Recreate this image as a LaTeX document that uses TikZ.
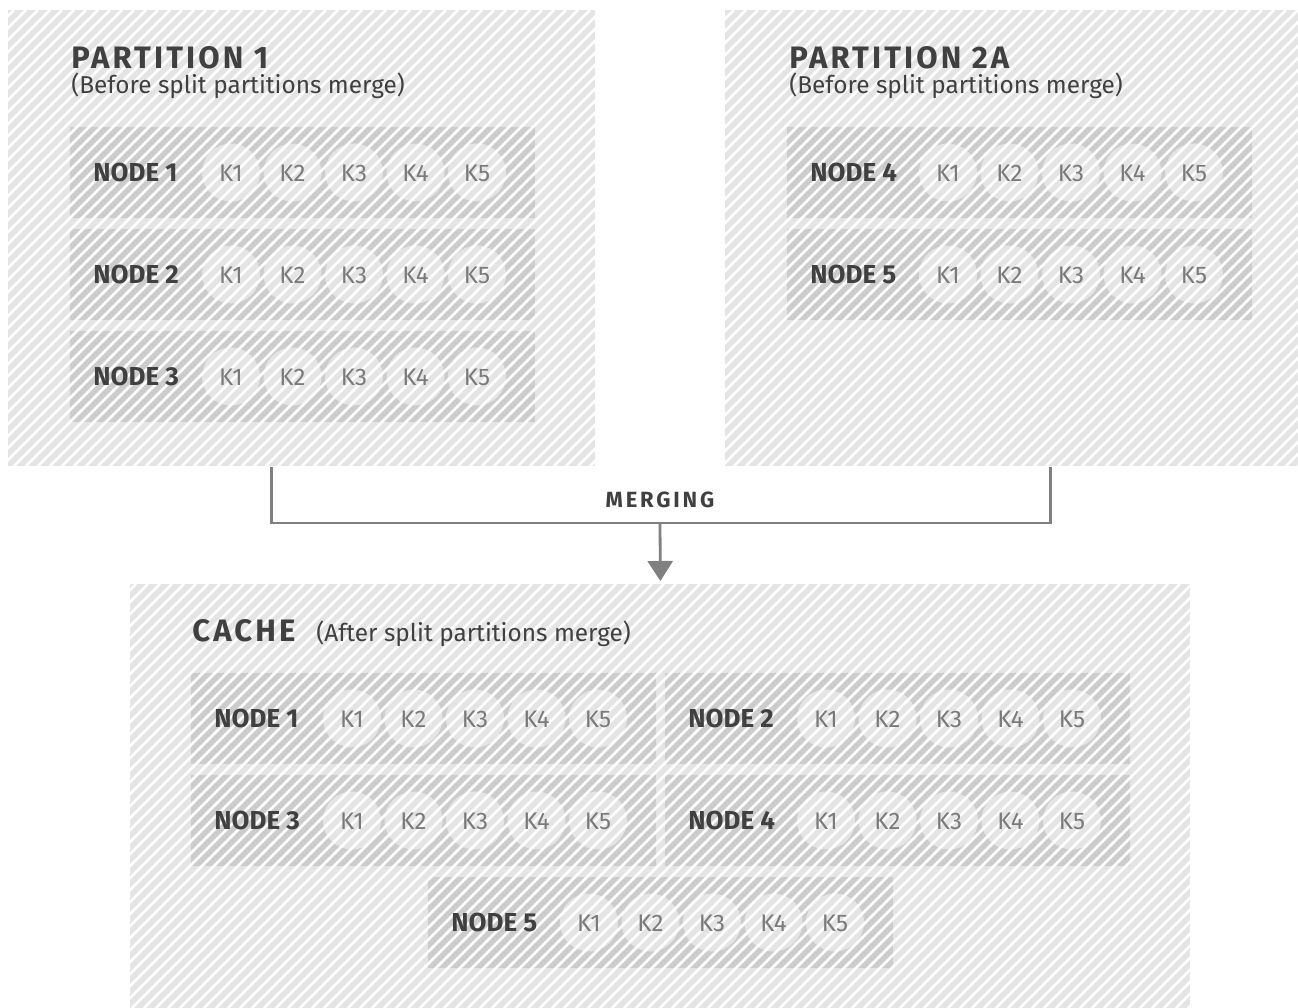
\documentclass[tikz,border=0pt]{standalone}
\usepackage{fontspec}
\setmainfont{Fira Sans}
\usetikzlibrary{arrows.meta}
\pgfdeclarelayer{hatch}
\pgfdeclarelayer{fg}
\pgfsetlayers{main,hatch,fg}
\definecolor{bgc}{RGB}{228,228,228}
\definecolor{rowc}{RGB}{204,204,204}
\definecolor{circc}{RGB}{228,228,228}
\definecolor{darkc}{RGB}{64,64,64}
\definecolor{keyc}{RGB}{122,122,122}
\definecolor{connc}{RGB}{128,128,128}
\tikzset{
  bigbox/.style={rectangle, fill=bgc, draw=none, inner sep=0pt, anchor=north west},
  rowbox/.style={rectangle, fill=rowc, draw=none, inner sep=0pt, anchor=north west,
    minimum width=232.5pt, minimum height=45.5pt},
  keycirc/.style={circle, fill=circc, draw=none, inner sep=0pt, minimum size=29pt},
  keylbl/.style={font=\fontsize{12}{12}\selectfont, text=keyc, inner sep=0pt, anchor=base},
  nodelbl/.style={font=\bfseries\fontsize{13}{13}\selectfont, text=darkc, inner sep=0pt, anchor=base west},
  titlelbl/.style={font=\bfseries\fontsize{15.5}{15.5}\selectfont\addfontfeatures{LetterSpace=10}, text=darkc, inner sep=0pt, anchor=base west},
  sublbl/.style={font=\fontsize{12.2}{12.2}\selectfont, text=darkc, inner sep=0pt, anchor=base west},
  mergelbl/.style={font=\bfseries\fontsize{11}{11}\selectfont\addfontfeatures{LetterSpace=13}, text=darkc, inner sep=0pt, anchor=base},
  hatchline/.style={draw=white, line width=1.4pt},
  conn/.style={draw=connc, line width=1.4pt},
}
\newcommand\keyrow[4]{%
  \node[rowbox] (#1) at (#2,#3) {};
  \foreach \k in {1,...,5}{%
    \node[keycirc] (#1c\k) at ({#2+161+(\k-1)*61.5},{#3+45.5}) {};
  }
  \begin{pgfonlayer}{fg}
    \node[nodelbl] (#1l) at ({#2+23},{#3+45.5+9}) {#4};
    \foreach \k in {1,...,5}{%
      \node[keylbl] (#1t\k) at ({#2+161+(\k-1)*61.5},{#3+45.5+8.5}) {K\k};
    }
  \end{pgfonlayer}
}
\newcommand\hatchbox[4]{%
  \begin{pgfonlayer}{hatch}
  \begin{scope}
    \clip (#1,#2) rectangle (#3,#4);
    \pgfmathsetmacro\hcs{floor((#1+#2)/12)*12}
    \pgfmathsetmacro\hcn{\hcs+12}
    \pgfmathsetmacro\hce{#3+#4+12}
    \foreach \c in {\hcs,\hcn,...,\hce}{%
      \draw[hatchline] ({\c-#4},#4) -- ({\c-#2},#2);
    }
  \end{scope}
  \end{pgfonlayer}
}
\begin{document}
\begin{tikzpicture}[x=0.5pt,y=-0.5pt]
\useasboundingbox (0,0) rectangle (1298,1008);
% big boxes
\node[bigbox, minimum width=293.5pt, minimum height=228pt] (p1) at (8,10) {};
\node[bigbox, minimum width=286.5pt, minimum height=228pt] (p2) at (725,10) {};
\node[bigbox, minimum width=530pt, minimum height=212pt] (cache) at (130,584) {};
% rows
\keyrow{p1a}{70}{127}{NODE 1}
\keyrow{p1b}{70}{229}{NODE 2}
\keyrow{p1c}{70}{331}{NODE 3}
\keyrow{p2a}{787}{127}{NODE 4}
\keyrow{p2b}{787}{229}{NODE 5}
\keyrow{ca}{191}{673}{NODE 1}
\keyrow{cb}{665}{673}{NODE 2}
\keyrow{cc}{191}{775}{NODE 3}
\keyrow{cd}{665}{775}{NODE 4}
\keyrow{ce}{428}{877}{NODE 5}
% hatching
\hatchbox{8}{10}{595}{466}
\hatchbox{725}{10}{1298}{466}
\hatchbox{130}{584}{1190}{1008}
% titles
\begin{pgfonlayer}{fg}
\node[titlelbl] (t1) at (71,68) {PARTITION 1};
\node[sublbl] (s1) at (71,93) {(Before split partitions merge)};
\node[titlelbl] (t2) at (789,68) {PARTITION 2A};
\node[sublbl] (s2) at (789,93) {(Before split partitions merge)};
\node[titlelbl] (t3) at (192,641) {CACHE};
\node[sublbl] (s3) at (316,641) {(After split partitions merge)};
\end{pgfonlayer}
% connector
\coordinate (m) at (660,523);
\node[mergelbl] (ml) at (660,507) {MERGING};
\draw[conn] ([xshift=-15.25pt]p1.south) |- (m) -| ([xshift=19.25pt]p2.south);
\draw[conn, -{Triangle[width=12.5pt,length=10pt]}, shorten >=1.5pt] (m) -- (cache.north);
\end{tikzpicture}
\end{document}
